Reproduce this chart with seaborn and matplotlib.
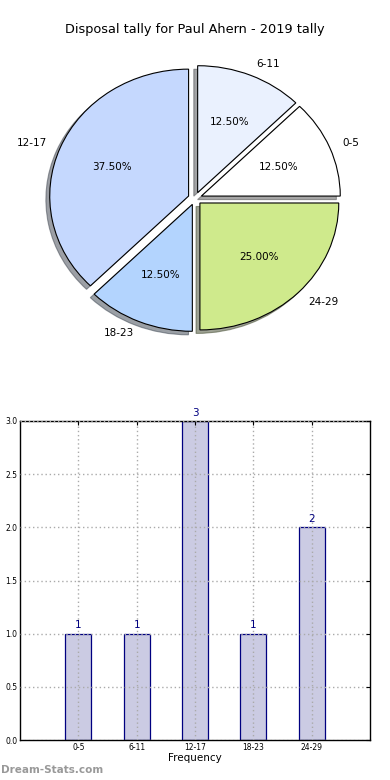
import matplotlib
matplotlib.use("Agg")
import seaborn as sns
import matplotlib.pyplot as plt

sns.set_style("white")
plt.rcParams['font.family'] = ['DejaVu Sans']
plt.rcParams.update({"text.color": "black", "axes.labelcolor": "black",
                     "xtick.color": "black", "ytick.color": "black"})

# data
age_groups = ["0-5", "6-11", "12-17", "18-23", "24-29"]
counts = [1, 1, 3, 1, 2]
pie_colors = ["#ffffff", "#eaf1fe", "#c5d8fe", "#b3d4fe", "#cfea8c"]
title = "Disposal tally for Paul Ahern - 2019 tally"

fig = plt.figure(figsize=(3.9, 7.8), dpi=100)

# 1. Pie chart on top (not forced to a circle, like the original)
ax1 = fig.add_axes([14.5 / 390, 416.5 / 780, 361 / 390, 330 / 780])
ax1.pie(counts, labels=age_groups, colors=pie_colors, autopct="%1.2f%%",
        explode=[0.05] * len(counts), shadow=True, startangle=0,
        counterclock=True, labeldistance=1.1, pctdistance=0.6,
        wedgeprops={"edgecolor": "black", "linewidth": 0.8},
        textprops={"fontsize": 7.5, "color": "black"})
ax1.set_aspect("auto")
ax1.set_xlim(-1.3, 1.3)
ax1.set_ylim(-1.3, 1.3)
ax1.axis("off")
fig.text(0.5, 1 - 30 / 780, title, ha="center", va="center", fontsize=9.3)

# 2. Bar chart below
ax2 = fig.add_axes([20 / 390, 40 / 780, 350 / 390, 319 / 780])
sns.barplot(x=age_groups, y=counts, ax=ax2, color="#cbcbe3", saturation=1,
            width=0.45, edgecolor="navy", linewidth=0.9)
ax2.set_xlim(-1, 5)
ax2.set_ylim(0, 3)
ax2.set_yticks([0, 0.5, 1, 1.5, 2, 2.5, 3])
ax2.set_yticklabels(["0.0", "0.5", "1.0", "1.5", "2.0", "2.5", "3.0"])
ax2.set_axisbelow(False)
ax2.grid(True, linestyle=(0, (1, 2)), color="#aaaaaa", linewidth=1)
ax2.tick_params(axis="both", labelsize=5.5, direction="in", top=True, right=True, length=3, pad=2)
for sp in ax2.spines.values():
    sp.set_color("black")
    sp.set_linewidth(1)
ax2.set_xlabel("Frequency", fontsize=7.5, labelpad=1)
ax2.set_ylabel("")
for i, v in enumerate(counts):
    ax2.text(i, v + 0.03, str(v), ha="center", va="bottom", color="navy", fontsize=7.5)

fig.text(1 / 390, 1 - 770 / 780, "Dream-Stats.com", ha="left", va="center",
         fontsize=7.5, color="#999999", fontweight="bold")

plt.savefig("out.png", dpi=100)
